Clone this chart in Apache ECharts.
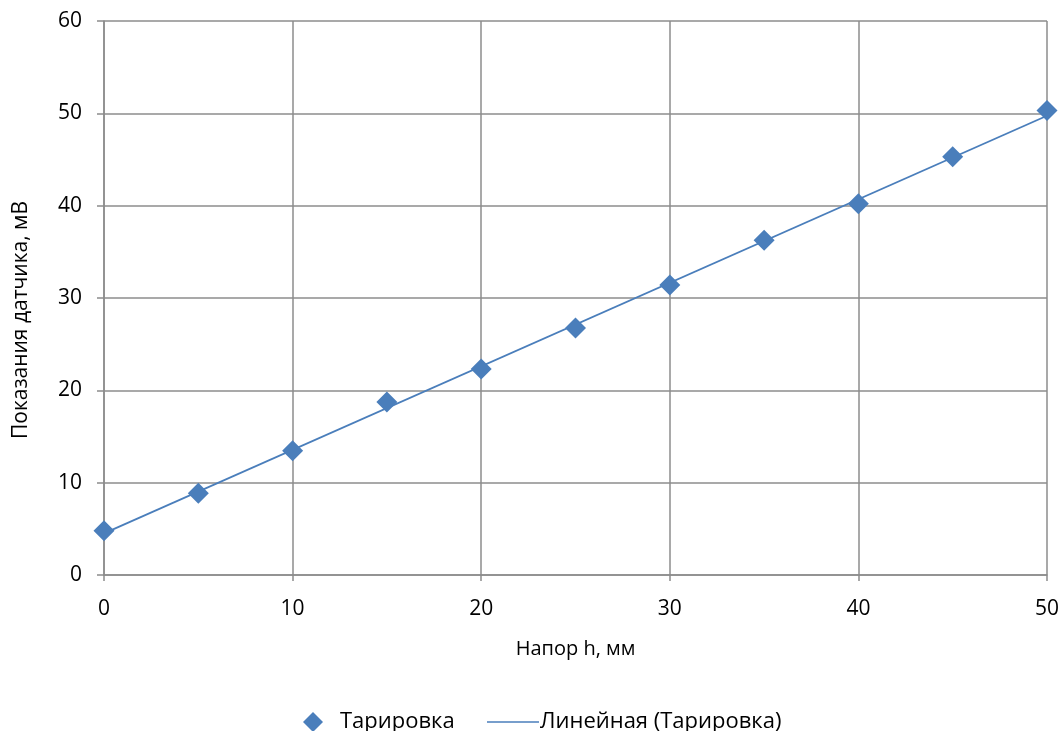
<!DOCTYPE html>
<html>
<head>
<meta charset="utf-8">
<script src="https://cdn.jsdelivr.net/npm/echarts@6/dist/echarts.min.js"></script>
<style>
  html, body { margin: 0; padding: 0; background: #fff; }
  #chart { width: 1064px; height: 731px; }
</style>
</head>
<body>
<div id="chart"></div>
<script>
// напор h, мм
var heads = [0, 5, 10, 15, 20, 25, 30, 35, 40, 45, 50];
// показания датчика, мВ
var readings = [4.8, 8.85, 13.45, 18.75, 22.3, 26.75, 31.4, 36.25, 40.2, 45.3, 50.3];

var seriesName = 'Тарировка';
var trendName = 'Линейная (Тарировка)';

// линейный тренд (МНК) по точкам тарировки
function linearFit(xs, ys) {
    var n = xs.length, sx = 0, sy = 0, sxx = 0, sxy = 0;
    for (var i = 0; i < n; i++) {
        sx += xs[i]; sy += ys[i];
        sxx += xs[i] * xs[i]; sxy += xs[i] * ys[i];
    }
    var k = (n * sxy - sx * sy) / (n * sxx - sx * sx);
    return { k: k, b: (sy - k * sx) / n };
}
var fit = linearFit(heads, readings);
var xMin = heads[0], xMax = heads[heads.length - 1];
var trend = [[xMin, fit.k * xMin + fit.b], [xMax, fit.k * xMax + fit.b]];

var points = heads.map(function (h, i) { return [h, readings[i]]; });

var blue = '#4a7ebb';
var gridGray = '#8c8c8c';
var font = 'Open Sans';

var myChart = echarts.init(document.getElementById('chart'));

var option = {
    animation: false,
    textStyle: { fontFamily: font },
    grid: { left: 104, right: 17, top: 21, bottom: 156, containLabel: false },
    xAxis: {
        type: 'value',
        min: 0, max: 50, interval: 10,
        name: 'Напор h, мм',
        nameLocation: 'middle',
        nameGap: 64,
        nameTextStyle: { fontSize: 20, color: '#000', fontFamily: font },
        axisLine: { show: true, lineStyle: { color: gridGray, width: 1.5 } },
        axisTick: { show: true, length: 6, lineStyle: { color: gridGray, width: 1.5 } },
        axisLabel: { fontSize: 21, color: '#000', margin: 24 },
        splitLine: { show: true, lineStyle: { color: gridGray, width: 1.5 } }
    },
    yAxis: {
        type: 'value',
        min: 0, max: 60, interval: 10,
        name: 'Показания датчика, мВ',
        nameLocation: 'middle',
        nameGap: 72,
        nameTextStyle: { fontSize: 21, color: '#000', fontFamily: font, padding: [0, 44, 0, 0] },
        axisLine: { show: true, lineStyle: { color: gridGray, width: 1.5 } },
        axisTick: { show: true, length: 7, lineStyle: { color: gridGray, width: 1.5 } },
        axisLabel: { fontSize: 21, color: '#000', margin: 22 },
        splitLine: { show: true, lineStyle: { color: gridGray, width: 1.5 } }
    },
    legend: [{
        data: [{ name: seriesName, icon: 'diamond' }],
        left: 298, top: 706,
        itemWidth: 20, itemHeight: 20, itemGap: 20,
        textStyle: { fontSize: 22, color: '#000', fontFamily: font, padding: [0, 0, 0, 12] }
    }, {
        data: [{ name: trendName, icon: 'rect' }],
        left: 482, top: 706,
        itemWidth: 52, itemHeight: 1.5,
        textStyle: { fontSize: 22, color: '#000', fontFamily: font, padding: [0, 0, 0, -4] }
    }],
    series: [{
        name: trendName,
        type: 'line',
        data: trend,
        showSymbol: false,
        symbol: 'none',
        itemStyle: { color: blue },
        lineStyle: { color: blue, width: 1.8 },
        z: 2
    }, {
        name: seriesName,
        type: 'scatter',
        data: points,
        symbol: 'diamond',
        symbolSize: 21,
        itemStyle: { color: blue, opacity: 1 },
        z: 3
    }]
};

myChart.setOption(option);
</script>
</body>
</html>
